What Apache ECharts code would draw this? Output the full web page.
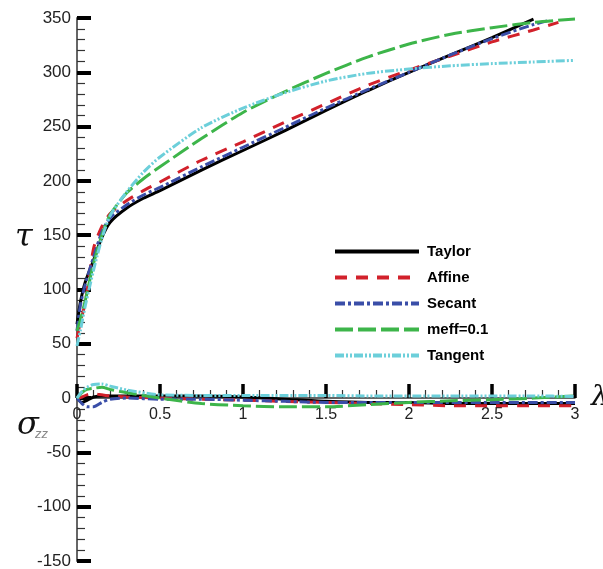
<!DOCTYPE html>
<html>
<head>
<meta charset="utf-8">
<script src="https://cdn.jsdelivr.net/npm/echarts@6/dist/echarts.min.js"></script>
<style>
html,body{margin:0;padding:0;background:#fff;}
#c{width:603px;height:569px;}
</style>
</head>
<body>
<div id="c"></div>
<script>
// ---- data ----
var seriesNames = ['Taylor', 'Affine', 'Secant', 'meff=0.1', 'Tangent'];

// tau curves (shear stress) vs lambda
var lambdaTau = [0, 0.02, 0.05, 0.1, 0.15, 0.2, 0.3, 0.4, 0.5, 0.75, 1, 1.25, 1.5, 1.75, 2, 2.25, 2.5, 2.75, 2.85, 2.9, 3];
var tauTaylor  = [68, 88, 107, 127, 148, 162, 175, 184, 191, 210, 228, 246, 265, 283, 300, 316, 332, 349, null, null, null];
var tauAffine  = [55, 70, 88, 138, 158, 170, 182, 191, 199, 219, 236, 254, 271, 288, 302, 315, 328, 339, null, 346, null];
var tauSecant  = [62, 85, 105, 130, 153, 166, 178, 187, 194, 213, 231, 249, 267, 284, 300, 316, 331, 344, 348, null, null];
var tauMeff    = [62, 72, 90, 124, 150, 169, 189, 202, 213, 239, 263, 282, 299, 314, 326, 335, 341, 346, null, null, 349];
var tauTangent = [48, 62, 85, 118, 147, 168, 190, 208, 222, 249, 267, 281, 292, 299, 303, 306, 308, 309.5, null, null, 311];

// sigma_zz curves (normal stress) vs lambda
var lambdaSig = [0, 0.03, 0.06, 0.1, 0.15, 0.2, 0.3, 0.5, 0.75, 1, 1.25, 1.5, 1.75, 2, 2.25, 2.5, 2.75, 3];
var sigTaylor  = [0, -4, -2, 1, 2, 2, 2, 2, 2, 1, -1, -3, -4, -4, -5, -5, -5, -5];
var sigAffine  = [0, 1, 3, 4, 3, 2, 1, 0, -1, -2, -3, -4, -5, -6, -7, -7, -7, -7];
var sigSecant  = [0, -5, -8, -8, -4, -1, 0, -1, -1, -2, -3, -4, -4, -4, -4, -4, -4, -4];
var sigMeff    = [0, 5, 8, 9, 10, 8, 5, 0, -5, -7, -8, -8, -6, -4, -2.5, -1.5, 0, 2];
var sigTangent = [0, 6, 10, 12.5, 13, 11, 7.5, 3, 2.5, 2.5, 2.5, 2.5, 2, 2, 2, 2, 2, 1.5];

// axis ticks
var xMin = 0, xMax = 3, xStep = 0.5;
var yMin = -150, yMax = 350, yStep = 50;

// ---- styles ----
var styles = {
  'Taylor':   {color: '#000000', type: 'solid'},
  'Affine':   {color: '#d2212b', type: [12, 9]},
  'Secant':   {color: '#3a4ea8', type: [10, 3, 3, 3]},
  'meff=0.1': {color: '#3db54a', type: [18, 5]},
  'Tangent':  {color: '#6ccfda', type: [9, 2, 2, 2, 2, 2]}
};

function pairs(xs, ys) {
  var out = [];
  for (var i = 0; i < xs.length; i++) {
    if (ys[i] !== null && ys[i] !== undefined) out.push([xs[i], ys[i]]);
  }
  return out;
}

var tauSets = [tauTaylor, tauAffine, tauSecant, tauMeff, tauTangent];
var sigSets = [sigTaylor, sigAffine, sigSecant, sigMeff, sigTangent];

var series = [];
seriesNames.forEach(function (n, i) {
  series.push({
    name: n, type: 'line', data: pairs(lambdaTau, tauSets[i]),
    xAxisIndex: 0, yAxisIndex: 0,
    symbol: 'none', showSymbol: false, smooth: 0.25,
    lineStyle: {width: 3, color: styles[n].color, type: styles[n].type},
    itemStyle: {color: styles[n].color}
  });
});
seriesNames.forEach(function (n, i) {
  series.push({
    name: n, type: 'line', data: pairs(lambdaSig, sigSets[i]),
    xAxisIndex: 0, yAxisIndex: 0,
    symbol: 'none', showSymbol: false, smooth: 0.25,
    lineStyle: {width: 3, color: styles[n].color, type: styles[n].type},
    itemStyle: {color: styles[n].color}
  });
});

var labelFont = 'Liberation Sans, Arial, sans-serif';

var chart = echarts.init(document.getElementById('c'), null, {renderer: 'canvas'});
chart.setOption({
  animation: false,
  backgroundColor: '#ffffff',
  grid: [
    {left: 77, right: 28, top: 18, bottom: 8, containLabel: false, outerBoundsMode: 'none'},
    // upper grid: its bottom edge sits on y = 0 of the main axis, carrying the lambda axis
    {left: 77, right: 28, top: 18, bottom: 171, containLabel: false, outerBoundsMode: 'none'}
  ],
  legend: {
    data: seriesNames,
    orient: 'vertical',
    left: 333, top: 244, padding: 0,
    itemWidth: 84, itemHeight: 14, itemGap: 11,
    itemStyle: {color: 'rgba(0,0,0,0)', borderColor: 'rgba(0,0,0,0)', borderWidth: 0, opacity: 0},
    lineStyle: {width: 4},
    textStyle: {fontFamily: labelFont, fontWeight: 'bold', fontSize: 15, color: '#000', padding: [0, 0, 0, 3]}
  },
  xAxis: [
    {
      type: 'value', gridIndex: 0, min: xMin, max: xMax, interval: xStep,
      axisLine: {show: false}, axisTick: {show: false}, axisLabel: {show: false}, splitLine: {show: false}
    },
    {
      type: 'value', gridIndex: 1, min: xMin, max: xMax, interval: xStep, position: 'bottom',
      name: 'λ', nameLocation: 'end', nameGap: 16,
      nameTextStyle: {fontFamily: 'DejaVu Serif, serif', fontStyle: 'italic', fontSize: 28, color: '#111'},
      axisLine: {onZero: false, lineStyle: {color: '#333', width: 1.5}},
      axisTick: {show: true, inside: true, length: 14, lineStyle: {color: '#000', width: 3.5}},
      minorTick: {show: true, splitNumber: 5, length: 8, lineStyle: {color: '#333', width: 1.2}},
      axisLabel: {fontFamily: labelFont, fontSize: 16, color: '#222', margin: 9},
      splitLine: {show: false}
    }
  ],
  yAxis: [
    {
      type: 'value', gridIndex: 0, min: yMin, max: yMax, interval: yStep,
      axisLine: {show: true, onZero: false, lineStyle: {color: '#666', width: 2}},
      axisTick: {show: true, inside: true, length: 14, lineStyle: {color: '#000', width: 4}},
      minorTick: {show: true, splitNumber: 5, length: 8, lineStyle: {color: '#333', width: 1.2}},
      axisLabel: {fontFamily: labelFont, fontSize: 17, color: '#222', margin: 6},
      splitLine: {show: false}
    },
    {
      type: 'value', gridIndex: 1, min: 0, max: yMax, show: false
    }
  ],
  graphic: [
    {type: 'text', left: 15, top: 222, style: {text: 'τ', font: 'italic 32px "DejaVu Serif", serif', fill: '#111'}},
    {type: 'text', left: 17, top: 410, style: {text: 'σ', font: 'italic 32px "DejaVu Serif", serif', fill: '#111'}},
    {type: 'text', left: 35, top: 428, style: {text: 'zz', font: 'italic 13px "Liberation Sans", Arial, sans-serif', fill: '#888'}}
  ],
  series: series
});
</script>
</body>
</html>
